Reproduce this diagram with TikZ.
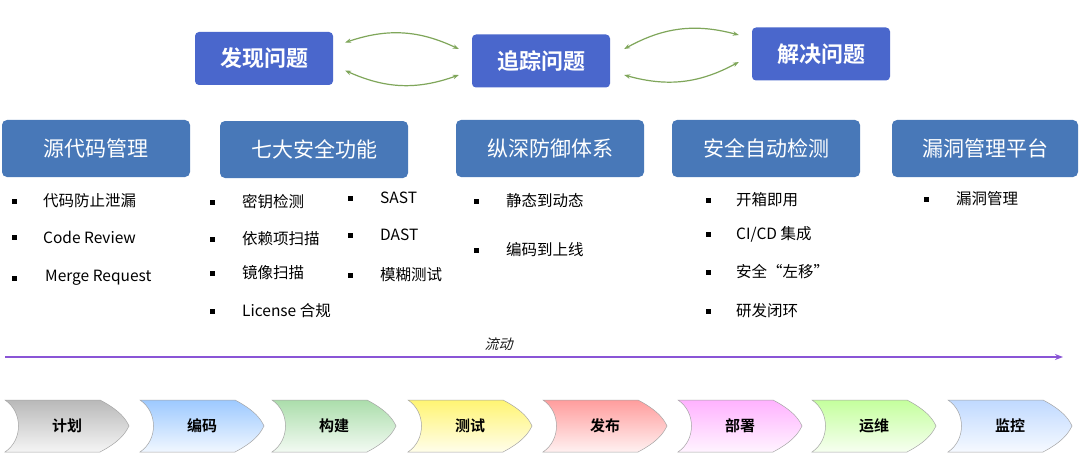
\documentclass[tikz,border=0pt]{standalone}
\usepackage{fontspec}
\setmainfont{Noto Sans CJK SC}
\newfontfamily\cjkb{Noto Sans CJK SC Bold}
\usetikzlibrary{arrows.meta}
\definecolor{topblue}{HTML}{4A67CC}
\definecolor{midblue}{HTML}{4878B8}
\definecolor{arcgreen}{HTML}{7FA65A}
\definecolor{flowpurple}{HTML}{8A55D6}
\tikzset{
 topbox/.style={fill=topblue,rounded corners=4pt,text=white,minimum width=138pt,minimum height=53pt,font=\cjkb\fontsize{22}{22}\selectfont},
 midbox/.style={fill=midblue,rounded corners=5pt,text=white,minimum width=188pt,minimum height=57pt,font=\fontsize{21}{21}\selectfont},
 item/.style={anchor=west,font=\fontsize{15.5}{16}\selectfont,inner sep=0pt},
 dot/.style={fill=black,minimum size=5pt,inner sep=0pt},
 arc/.style={draw=arcgreen,line width=1.2pt,{Stealth[length=6pt]}-{Stealth[length=6pt]}},
 chev/.style={draw=gray!70,line width=0.5pt},
 chevtxt/.style={font=\cjkb\fontsize{15}{15}\selectfont}
}
\newcommand{\chevron}[4]{% x, name, colour, text
 \path[chev,top color=#3!55,bottom color=#3!8] (#1,400) -- (#1+95,400) .. controls (#1+118,412) and (#1+122,422) .. (#1+124,426) .. controls (#1+120,434) and (#1+114,442) .. (#1+95,452) -- (#1,452) .. controls (#1+18,440) and (#1+18,412) .. (#1,400) -- cycle;
 \node[chevtxt] (#2) at (#1+62,426) {#4};
}
\begin{document}
\begin{tikzpicture}[x=1pt,y=-1pt]
\useasboundingbox (0,0) rectangle (1080,460);
\fill[white] (0,0) rectangle (1080,460);
% top row
\node[topbox] (fx) at (264,58.5) {发现问题};
\node[topbox] (zz) at (541,61) {追踪问题};
\node[topbox] (jj) at (821,54) {解决问题};
\draw[arc] ([xshift=12pt,yshift=-12pt]fx.east) to[bend right=22] ([xshift=-13pt,yshift=-14pt]zz.west);
\draw[arc] ([xshift=12pt,yshift=16pt]fx.east) to[bend left=22] ([xshift=-13pt,yshift=12pt]zz.west);
\draw[arc] ([xshift=14pt,yshift=-14pt]zz.east) to[bend right=22] ([xshift=-13pt,yshift=-8pt]jj.west);
\draw[arc] ([xshift=14pt,yshift=12pt]zz.east) to[bend left=22] ([xshift=-13pt,yshift=19pt]jj.west);
% middle row
\node[midbox] (ym) at (96,148.5) {源代码管理};
\node[midbox] (qd) at (314,149.5) {七大安全功能};
\node[midbox] (zs) at (550,148.5) {纵深防御体系};
\node[midbox] (aq) at (766,148.5) {安全自动检测};
\node[midbox,minimum width=186pt] (ld) at (985,148.5) {漏洞管理平台};
% bullets
\foreach \bx/\tx/\y/\t in {14/43/201/代码防止泄漏, 14/43/237/Code Review, 14/45/278/Merge Request,
 212/242/202/密钥检测, 212/242/239/依赖项扫描, 212/242/273/镜像扫描, 212/242/311/License 合规,
 350/380/198/SAST, 350/380/235/DAST, 350/380/275/模糊测试,
 476/506/201/静态到动态, 476/506/250/编码到上线,
 708/736/200/开箱即用, 708/736/234/{CI/CD 集成}, 708/736/272/安全“左移”, 708/736/311/研发闭环,
 926/956/199/漏洞管理}{
 \node[dot] at (\bx,\y) {};
 \node[item] at (\tx,\y) {\t};
}
% flow arrow
\coordinate (fs) at (5,357);
\coordinate (fe) at (1063,357);
\draw[flowpurple,line width=1.6pt,-{Stealth[length=8pt]}] (fs) -- (fe);
\node[font=\itshape\fontsize{14}{14}\selectfont,gray!20!black,xslant=0.25] (lb) at (500,344) {流动};
% chevrons
\chevron{5}{c1}{gray}{计划}
\chevron{140}{c2}{blue!55!cyan!70!white}{编码}
\chevron{272}{c3}{green!60!black!60!white}{构建}
\chevron{408}{c4}{yellow!85!orange}{测试}
\chevron{543}{c5}{red!70!white}{发布}
\chevron{678}{c6}{magenta!55!white}{部署}
\chevron{812}{c7}{green!60!yellow!70!white}{运维}
\chevron{948}{c8}{cyan!40!blue!45!white}{监控}
\end{tikzpicture}
\end{document}
